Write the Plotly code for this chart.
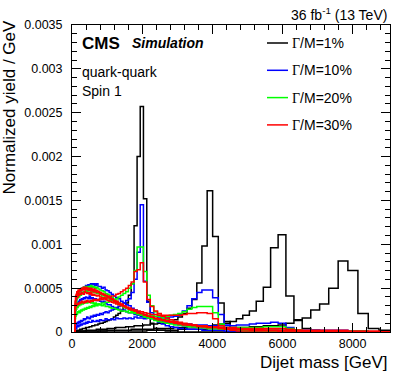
import plotly.graph_objects as go

# dijet mass bin edges [GeV]
edges = [88, 103, 119, 137, 156, 176, 197, 220, 244, 270, 296, 325, 354, 386, 419,
         453, 489, 526, 565, 606, 649, 693, 740, 788, 838, 890, 944, 1000, 1058,
         1118, 1181, 1246, 1313, 1383, 1455, 1530, 1607, 1687, 1770, 1856, 1945,
         2037, 2132, 2231, 2332, 2438, 2546, 2659, 2775, 2895, 3019, 3147, 3279,
         3416, 3558, 3704, 3854, 4010, 4171, 4337, 4509, 4686, 4869, 5058, 5253,
         5455, 5663, 5877, 6099, 6328, 6564, 6808, 7060, 7320, 7589, 7866, 8152,
         8447, 8752, 9067]

# normalized yield / GeV in units of 1e-5, one value per bin (missing bins are 0)
# Gamma/M = 1%
w1_m2000 = [1, 1, 1, 2, 2, 2, 2, 3, 3, 3,
            4, 4, 4, 5, 5, 5, 6, 6, 7, 7,
            8, 8, 9, 10, 10, 11, 12, 13, 14, 15,
            17, 19, 21, 24, 28, 33, 42, 55, 121, 200,
            257, 152, 35, 10, 4, 2, 2, 1, 1, 1]
w1_m4000 = [0, 0, 1, 1, 1, 1, 1, 1, 1, 1,
            1, 1, 1, 2, 2, 2, 2, 2, 2, 2,
            2, 3, 3, 3, 3, 3, 3, 4, 4, 4,
            4, 5, 5, 5, 5, 6, 6, 6, 7, 7,
            7, 8, 8, 9, 9, 10, 10, 11, 12, 14,
            17, 21, 27, 37, 56, 98, 161, 109, 33, 12,
            4, 2, 1, 1]
w1_m6000 = [0, 0, 0, 0, 0, 0, 0, 0, 1, 1,
            1, 1, 1, 1, 1, 1, 1, 1, 1, 1,
            1, 1, 1, 1, 1, 1, 1, 2, 2, 2,
            2, 2, 2, 2, 2, 2, 2, 3, 3, 3,
            3, 3, 3, 3, 4, 4, 4, 4, 4, 5,
            5, 5, 6, 6, 6, 7, 7, 8, 9, 10,
            12, 15, 19, 24, 35, 51, 96, 111, 41, 14,
            4, 2, 1]
w1_m8000 = [0, 0, 0, 0, 0, 0, 0, 0, 0, 0,
            0, 0, 0, 0, 0, 0, 0, 0, 0, 0,
            0, 0, 1, 1, 1, 1, 1, 1, 1, 1,
            1, 1, 1, 1, 1, 1, 1, 1, 1, 1,
            1, 1, 2, 2, 2, 2, 2, 2, 2, 2,
            3, 3, 3, 3, 3, 3, 4, 4, 4, 4,
            5, 5, 5, 6, 6, 7, 7, 8, 10, 13,
            16, 25, 32, 50, 81, 70, 21, 4, 2]

# Gamma/M = 10%
w10_m2000 = [6, 8, 10, 9, 11, 10, 12, 11, 13, 12,
             13, 15, 14, 15, 17, 16, 15, 18, 17, 19,
             18, 20, 19, 21, 20, 22, 23, 22, 24, 25,
             26, 27, 29, 31, 33, 36, 38, 45, 60, 91,
             145, 58, 34, 22, 15, 11, 9, 7, 6, 5,
             4, 4, 3, 3, 3, 2, 2, 2, 2, 1,
             1, 1, 1, 1, 1, 1, 1, 1]
w10_m4000 = [3, 5, 4, 6, 7, 6, 8, 7, 9, 8,
             9, 10, 9, 11, 10, 12, 11, 11, 13, 12,
             12, 13, 12, 14, 13, 13, 15, 14, 14, 15,
             14, 16, 15, 15, 16, 15, 16, 15, 17, 16,
             16, 15, 17, 16, 15, 17, 16, 16, 17, 18,
             20, 24, 30, 38, 45, 48, 48, 39, 20, 8,
             4, 3, 2, 2, 1, 1, 1, 1, 1, 1]
w10_m6000 = [20, 26, 29, 31, 33, 35, 34, 37, 36, 38,
             37, 39, 38, 40, 39, 38, 41, 38, 39, 37,
             38, 36, 37, 35, 34, 35, 33, 31, 31, 29,
             28, 28, 26, 25, 25, 23, 22, 22, 20, 19,
             18, 17, 16, 15, 14, 13, 12, 12, 11, 10,
             10, 9, 9, 8, 8, 8, 7, 7, 7, 7,
             7, 8, 8, 9, 10, 10, 11, 10, 5, 2,
             1, 1]
w10_m8000 = [25, 33, 37, 41, 43, 45, 44, 48, 47, 50,
             49, 51, 50, 53, 52, 54, 52, 55, 54, 55,
             53, 55, 52, 52, 50, 51, 48, 47, 45, 43,
             41, 39, 38, 35, 33, 31, 30, 27, 25, 23,
             21, 19, 18, 16, 15, 13, 12, 11, 10, 9,
             8, 7, 7, 6, 6, 5, 5, 4, 4, 4,
             3, 3, 3, 3, 3, 2, 2, 2, 2, 2,
             2, 2, 2, 2, 2, 1, 1]

# Gamma/M = 20%
w20_m2000 = [15, 18, 21, 20, 23, 22, 24, 22, 25, 24,
             26, 25, 27, 26, 28, 27, 29, 28, 30, 29,
             31, 30, 32, 31, 33, 33, 34, 34, 36, 36,
             37, 38, 40, 42, 44, 46, 50, 55, 70, 97,
             97, 69, 42, 30, 23, 19, 16, 14, 12, 10,
             9, 8, 7, 6, 5, 5, 4, 4, 3, 3,
             3, 2, 2, 2, 2, 1, 1, 1, 1, 1]
w20_m4000 = [20, 25, 26, 29, 28, 31, 30, 32, 31, 33,
             32, 34, 33, 35, 33, 34, 35, 33, 34, 32,
             33, 31, 32, 31, 30, 31, 29, 29, 28, 27,
             27, 26, 25, 24, 24, 23, 22, 22, 21, 21,
             20, 20, 19, 19, 18, 18, 18, 18, 19, 20,
             21, 23, 26, 28, 29, 29, 29, 22, 9, 4,
             2, 2, 1, 1, 1, 1, 1, 1]
w20_m6000 = [25, 31, 34, 38, 39, 41, 40, 43, 42, 45,
             44, 46, 45, 47, 46, 48, 47, 46, 47, 45,
             46, 44, 44, 43, 41, 41, 39, 39, 37, 36,
             34, 33, 31, 30, 28, 27, 25, 24, 22, 21,
             20, 18, 17, 16, 15, 14, 13, 12, 11, 10,
             9, 8, 8, 7, 7, 6, 6, 5, 5, 5,
             5, 5, 5, 5, 5, 6, 6, 6, 4, 2,
             1, 1]
w20_m8000 = [28, 35, 38, 42, 43, 46, 45, 48, 47, 50,
             49, 51, 50, 52, 51, 52, 51, 53, 51, 52,
             50, 51, 49, 48, 47, 46, 44, 43, 41, 39,
             37, 35, 33, 31, 29, 27, 25, 23, 22, 20,
             19, 17, 16, 15, 13, 12, 11, 10, 9, 8,
             8, 7, 6, 6, 5, 5, 4, 4, 4, 3,
             3, 3, 3, 2, 2, 2, 2, 2, 2, 2,
             1, 1, 1, 1, 1, 1, 1]

# Gamma/M = 30%
w30_m2000 = [25, 29, 30, 32, 31, 33, 32, 34, 33, 35,
             34, 33, 35, 34, 36, 35, 34, 36, 35, 37,
             36, 37, 36, 38, 37, 39, 38, 40, 40, 41,
             41, 43, 44, 46, 48, 50, 53, 57, 69, 71,
             79, 57, 37, 29, 24, 21, 18, 16, 14, 12,
             11, 10, 9, 8, 7, 6, 5, 5, 4, 4,
             3, 3, 3, 2, 2, 2, 2, 1, 1, 1]
w30_m4000 = [30, 36, 38, 41, 40, 43, 42, 44, 43, 45,
             44, 43, 46, 45, 44, 45, 43, 45, 42, 43,
             42, 41, 42, 40, 39, 38, 37, 36, 35, 34,
             33, 32, 31, 30, 29, 28, 27, 26, 25, 24,
             23, 22, 21, 20, 20, 19, 19, 19, 19, 19,
             19, 20, 21, 21, 22, 22, 21, 15, 7, 3,
             2, 1, 1, 1, 1, 1, 1]
w30_m6000 = [32, 39, 42, 45, 44, 47, 46, 48, 47, 49,
             48, 50, 48, 49, 50, 48, 49, 47, 48, 46,
             47, 45, 45, 44, 43, 42, 41, 40, 38, 37,
             35, 34, 32, 31, 29, 28, 26, 25, 24, 22,
             21, 20, 18, 17, 16, 15, 14, 13, 12, 11,
             10, 9, 8, 8, 7, 7, 6, 6, 5, 5,
             5, 4, 4, 4, 4, 4, 4, 4, 3, 2,
             1, 1, 1]
w30_m8000 = [35, 41, 43, 46, 45, 48, 47, 49, 48, 50,
             49, 51, 50, 51, 49, 50, 48, 50, 48, 49,
             48, 47, 46, 45, 44, 43, 42, 41, 40, 38,
             36, 35, 33, 32, 30, 28, 27, 25, 24, 22,
             21, 19, 18, 17, 15, 14, 13, 12, 11, 10,
             9, 8, 8, 7, 6, 6, 5, 5, 4, 4,
             4, 3, 3, 3, 3, 2, 2, 2, 2, 2,
             2, 2, 2, 2, 2, 1, 1, 1]

width_labels = ["1%", "10%", "20%", "30%"]
colors = ["#000000", "#0000ff", "#00ff00", "#ff0000"]
hists = [
    [w1_m2000, w1_m4000, w1_m6000, w1_m8000],
    [w10_m2000, w10_m4000, w10_m6000, w10_m8000],
    [w20_m2000, w20_m4000, w20_m6000, w20_m8000],
    [w30_m2000, w30_m4000, w30_m6000, w30_m8000],
]

# plot area in pixels (399x382 page)
L, R, T, B = 72, 390, 25, 332
W, H = 399, 382


def px(xp):
    return (xp - L) / (R - L)


def py(yp):
    return (B - yp) / (B - T)


fig = go.Figure()
nbins = len(edges) - 1
for label, color, group in zip(width_labels, colors, hists):
    for vals in group:
        v = [x * 1e-5 for x in vals] + [0.0] * (nbins - len(vals))
        fig.add_trace(go.Scatter(
            x=[edges[0]] + edges,
            y=[0.0] + v + [v[-1]],
            mode="lines",
            line=dict(shape="hv", color=color, width=1.5),
            name="Γ/M=" + label,
            showlegend=False,
            hoverinfo="skip",
        ))

font = "Liberation Sans, Arial, Helvetica, sans-serif"
axis_common = dict(
    showgrid=False, zeroline=False, showline=True, linecolor="black", linewidth=1,
    mirror="allticks", ticks="inside", tickcolor="black",
    tickfont=dict(family=font, size=12.5, color="black"),
)

fig.update_layout(
    width=W, height=H,
    margin=dict(l=L, r=W - R, t=T, b=H - B, pad=0),
    paper_bgcolor="white", plot_bgcolor="white",
    xaxis=dict(
        range=[0, 9067], tickvals=[0, 2000, 4000, 6000, 8000],
        ticktext=["0", "2000", "4000", "6000", "8000"], ticklen=9,
        minor=dict(ticks="inside", dtick=400, ticklen=5, tickcolor="black"),
        **axis_common,
    ),
    yaxis=dict(
        range=[0, 0.0035],
        tickvals=[0, 0.0005, 0.001, 0.0015, 0.002, 0.0025, 0.003, 0.0035],
        ticktext=["0", "0.0005", "0.001", "0.0015", "0.002", "0.0025", "0.003", "0.0035"],
        ticklen=9, ticklabelstandoff=6,
        minor=dict(ticks="inside", dtick=0.0001, ticklen=5, tickcolor="black"),
        **axis_common,
    ),
    showlegend=False,
)

ann = [
    dict(text="Dijet mass [GeV]", x=px(390), y=py(362), xanchor="right", yanchor="middle",
         font=dict(size=17)),
    dict(text="Normalized yield / GeV", x=px(9), y=py(18), xanchor="center", yanchor="top",
         textangle=-90, font=dict(size=17)),
    dict(text="36 fb<sup>-1</sup> (13 TeV)", x=px(389), y=py(14), xanchor="right",
         yanchor="middle", font=dict(size=14)),
    dict(text="<b>CMS</b>", x=px(80), y=py(43), xanchor="left", yanchor="middle",
         font=dict(size=17)),
    dict(text="<b><i>Simulation</i></b>", x=px(130), y=py(43), xanchor="left",
         yanchor="middle", font=dict(size=14)),
    dict(text="quark-quark", x=px(80), y=py(72), xanchor="left", yanchor="middle",
         font=dict(size=14)),
    dict(text="Spin 1", x=px(80), y=py(91), xanchor="left", yanchor="middle",
         font=dict(size=14)),
]
for i, (label, color) in enumerate(zip(width_labels, colors)):
    yl = 43 + i * 27.3
    fig.add_shape(type="line", xref="paper", yref="paper", x0=px(267), x1=px(288),
                  y0=py(yl), y1=py(yl), line=dict(color=color, width=1.5))
    ann.append(dict(
        text='<span style="font-family:Liberation Serif, Times New Roman, serif">Γ</span>/M=' + label,
        x=px(290), y=py(yl), xanchor="left", yanchor="middle", font=dict(size=14)))

for a in ann:
    a.update(xref="paper", yref="paper", showarrow=False)
    a["font"].update(family=font, color="black")
    fig.add_annotation(**a)

# drop the default page margin so the figure sits at the window's top-left corner
fig.write_html("out.html", config={"displayModeBar": False},
               post_script="document.body.style.margin = '0';")
